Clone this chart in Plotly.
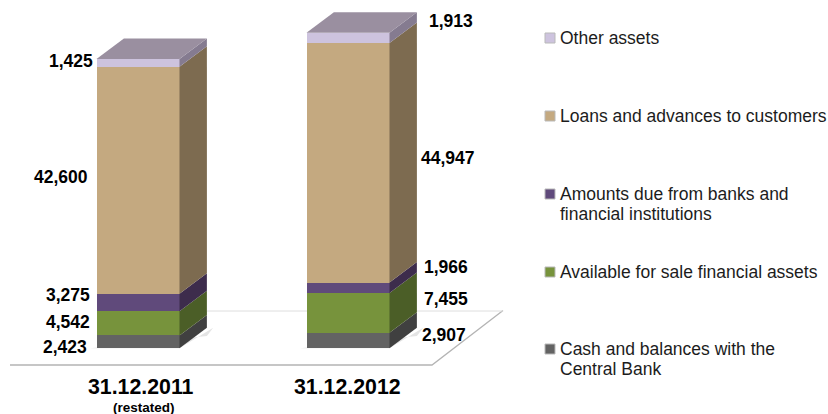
import plotly.graph_objects as go

W, H = 828, 414

dates = ["31.12.2011", "31.12.2012"]
cash = [2423, 2907]
afs = [4542, 7455]
due = [3275, 1966]
loans = [42600, 44947]
other = [1425, 1913]

series_names = [
    "Cash and balances with the<br>Central Bank",
    "Available for sale financial assets",
    "Amounts due from banks and<br>financial institutions",
    "Loans and advances to customers",
    "Other assets",
]
series_values = [cash, afs, due, loans, other]

front_colors = ["#636363", "#77933c", "#604a7b", "#c4a980", "#cdc3de"]
side_colors = ["#404040", "#4b5e27", "#3d2c4c", "#7d6b50", "#857b90"]
top_color = "#9a8fa0"

# pixel scale of the picture
X0, X_STEP = 138.0, 210.0
Y0, Y_SCALE = 348.3, 0.00533
BAR_WIDTH = 83 / X_STEP
DX = 27.4 / X_STEP
DY = 20.5 / Y_SCALE

# label pixel spots (right edge, middle), bottom series first
left_label_x = [89, 92, 92, 90, 95]
left_label_y = [347, 322, 295, 177, 61]
right_label_x = [468, 470, 470, 477, 475]
right_label_y = [335, 299, 267, 158, 21]
legend_y = [349, 272, 194, 116, 38]
LEGEND_LINE = 20


def px(x):
    return x / W


def py(y):
    return 1 - y / H


fig = go.Figure()
for name, vals, color in zip(series_names, series_values, front_colors):
    fig.add_trace(go.Bar(x=[0, 1], y=vals, width=BAR_WIDTH, marker=dict(color=color, line_width=0),
                         name=name.replace("<br>", " "), showlegend=False))

shapes = []

# floor
floor = "M %f %f L %f %f L %f %f" % (px(10), py(365), px(432), py(365), px(503), py(310.5))
shapes.append(dict(type="path", path=floor, xref="paper", yref="paper", line=dict(color="#b4b4b4", width=1.3), layer="below"))
shapes.append(dict(type="line", x0=px(207), x1=px(503), y0=py(311), y1=py(311), xref="paper", yref="paper",
                   line=dict(color="#dedede", width=1), layer="below"))

# 3d sides and tops worked out from the stacked values
for i in range(2):
    right = i + BAR_WIDTH / 2
    left = i - BAR_WIDTH / 2
    base = 0
    # soft shadow at the foot of the bar
    shapes.append(dict(type="path", layer="below", fillcolor="#e4e4e4", line_width=0,
                       path=f"M {left - 0.03} 0 L {right} 0 L {right + DX + 0.03} {DY} L {right + DX} {DY * 0.6} Z"))
    for vals, col in zip(series_values, side_colors):
        top = base + vals[i]
        shapes.append(dict(type="path", fillcolor=col, line_width=0,
                           path=f"M {right} {base} L {right + DX} {base + DY} L {right + DX} {top + DY} L {right} {top} Z"))
        base = top
    shapes.append(dict(type="path", fillcolor=top_color, line_width=0,
                       path=f"M {left} {base} L {left + DX} {base + DY} L {right + DX} {base + DY} L {right} {base} Z"))

annotations = []
for name, ly, color in zip(series_names, legend_y, front_colors):
    for k, line in enumerate(name.split("<br>")):
        annotations.append(dict(text=line, x=px(557.5), y=py(ly + k * LEGEND_LINE), xref="paper", yref="paper",
                                xanchor="left", yanchor="middle", align="left", showarrow=False,
                                font=dict(family="Liberation Sans", size=17.5, color="#1c1c1c")))
    shapes.append(dict(type="rect", x0=px(545), x1=px(555), y0=py(ly - 5), y1=py(ly + 5), xref="paper", yref="paper",
                       fillcolor=color, line=dict(color="#b9b9b9", width=1)))

for j, vals in enumerate(series_values):
    annotations.append(dict(text=f"{vals[0]:,}", x=px(left_label_x[j]), y=py(left_label_y[j]), xref="paper", yref="paper",
                            xanchor="right", yanchor="middle", showarrow=False,
                            font=dict(family="Liberation Sans", size=17.5, color="#000000", weight="bold")))
    annotations.append(dict(text=f"{vals[1]:,}", x=px(right_label_x[j]), y=py(right_label_y[j]), xref="paper", yref="paper",
                            xanchor="right", yanchor="middle", showarrow=False,
                            font=dict(family="Liberation Sans", size=17.5, color="#000000", weight="bold")))

annotations.append(dict(text=dates[0], x=px(141), y=py(387), xref="paper", yref="paper", showarrow=False,
                        xanchor="center", yanchor="middle",
                        font=dict(family="Liberation Sans", size=21.3, color="#000000", weight="bold")))
annotations.append(dict(text=dates[1], x=px(347.5), y=py(387), xref="paper", yref="paper", showarrow=False,
                        xanchor="center", yanchor="middle",
                        font=dict(family="Liberation Sans", size=21.3, color="#000000", weight="bold")))
annotations.append(dict(text="(restated)", x=px(144), y=py(407), xref="paper", yref="paper", showarrow=False,
                        xanchor="center", yanchor="middle",
                        font=dict(family="Liberation Sans", size=13.5, color="#000000", weight="bold")))

fig.update_layout(
    barmode="stack",
    width=W, height=H,
    margin=dict(l=0, r=0, t=0, b=0),
    paper_bgcolor="white", plot_bgcolor="rgba(0,0,0,0)",
    xaxis=dict(range=[-X0 / X_STEP, (W - X0) / X_STEP], visible=False),
    yaxis=dict(range=[-(H - Y0) / Y_SCALE, Y0 / Y_SCALE], visible=False),
    shapes=shapes, annotations=annotations, showlegend=False,
)

fig.write_html("out.html", config=dict(displayModeBar=False), post_script="document.body.style.margin='0';")
